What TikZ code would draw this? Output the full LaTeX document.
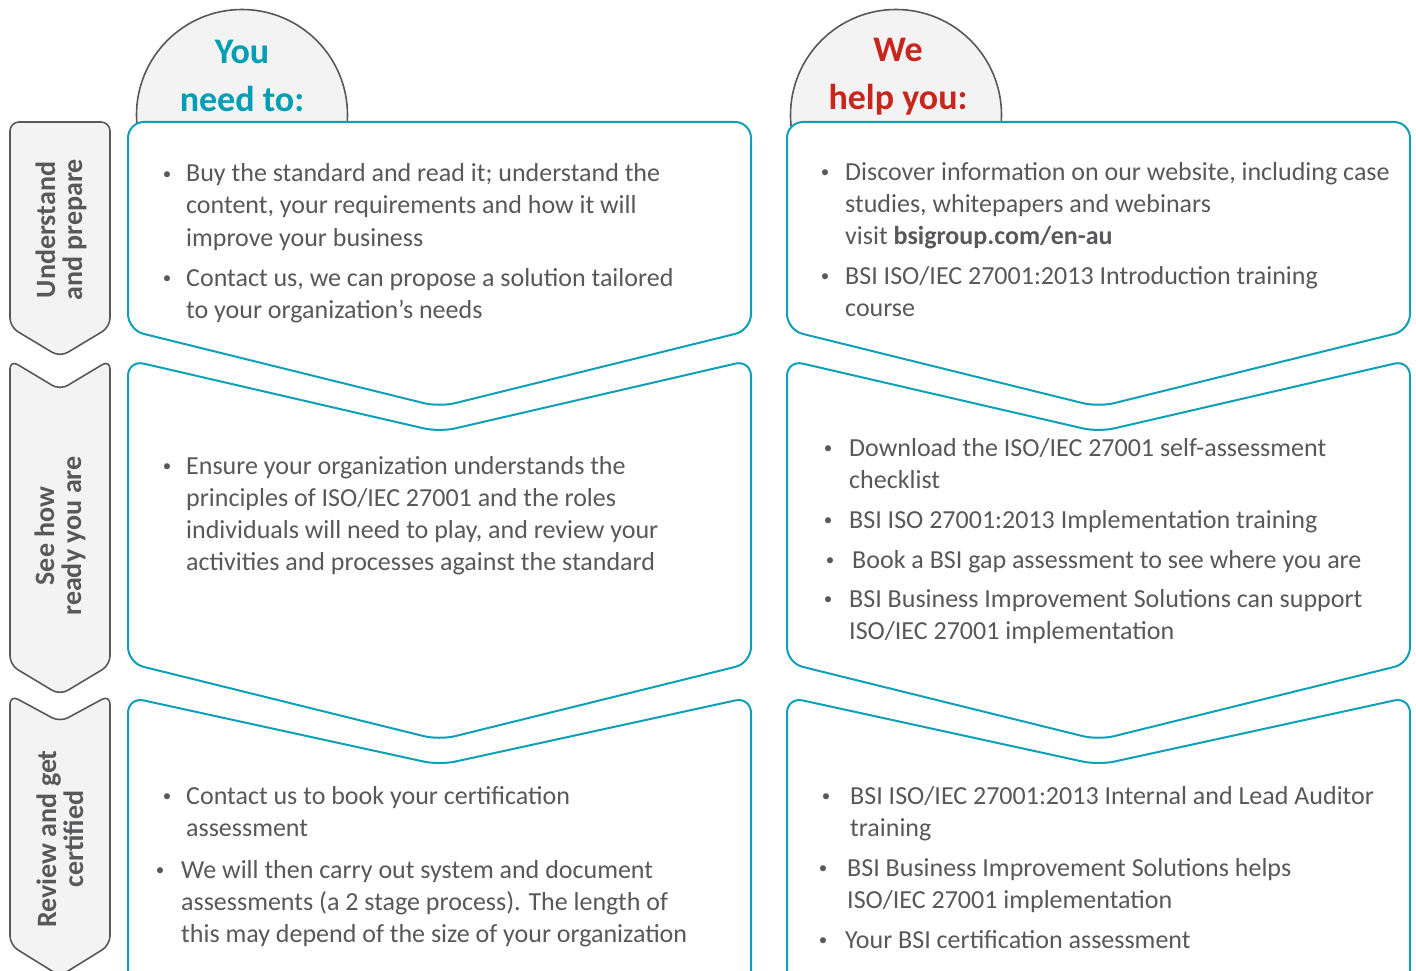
\documentclass[tikz,border=0pt]{standalone}
\usepackage{fontspec}
\setmainfont{Carlito}
\definecolor{teal1}{RGB}{14,160,184}
\definecolor{headteal}{RGB}{0,158,178}
\definecolor{headred}{RGB}{200,38,28}
\definecolor{txtgray}{RGB}{88,88,90}
\definecolor{tabline}{RGB}{88,88,88}
\definecolor{tabfill}{RGB}{243,243,243}
\newcommand\bitem[5]{%
  \node[txt, anchor=base west] (#1) at (#3,#4+8) {\begin{tabular}[t]{@{}l@{}}#5\end{tabular}};
  \node[bdot, anchor=base] (#1d) at (#2,#4+5) {•};
}
\begin{document}
\begin{tikzpicture}[x=1pt,y=-1pt,
  tabshape/.style={draw=tabline, fill=tabfill, line width=1.6pt, rounded corners=9pt},
  boxshape/.style={draw=teal1, fill=white, line width=2pt, rounded corners=16pt},
  headcirc/.style={draw=tabline, fill=tabfill, line width=1.6pt, circle, minimum size=211pt, inner sep=0pt},
  tabtext/.style={text=txtgray, font=\bfseries\fontsize{28}{27}\selectfont, rotate=90, align=center, inner sep=0pt},
  headtxt/.style={font=\bfseries\fontsize{36}{44}\selectfont, inner sep=0pt, anchor=base},
  txt/.style={text=txtgray, font=\fontsize{26}{32}\selectfont, inner sep=0pt},
  bdot/.style={text=txtgray, font=\fontsize{17}{20}\selectfont, inner sep=0pt},
]
\useasboundingbox (0,0) rectangle (1416,971);

% heading circles
\node[headcirc] (c1) at (242,115) {};
\node[headcirc] (c2) at (896,115) {};
\node[headtxt, text=headteal] (h1a) at (242,64) {You};
\node[headtxt, text=headteal] (h1b) at (242,112) {need to:};
\node[headtxt, text=headred] (h2a) at (898,62) {We};
\node[headtxt, text=headred] (h2b) at (898,110) {help you:};

% left tabs
\draw[tabshape] (10,122) -- (110,122) -- (110,327) -- (60,357) -- (10,327) -- cycle;
\draw[tabshape] (10,360) -- (60,390) -- (110,360) -- (110,665) -- (60,695) -- (10,665) -- cycle;
\draw[tabshape] (10,695) -- (60,722) -- (110,695) -- (110,945) -- (60,976) -- (10,945) -- cycle;
\node[tabtext] (t1) at (61,230) {Understand\\and prepare};
\node[tabtext] (t2) at (60,536) {See how\\ready you are};
\node[tabtext] (t3) at (60,839) {Review and get\\certified};

% boxes, left column
\draw[boxshape] (128,122) -- (751,122) -- (751,330) -- (439.5,407) -- (128,330) -- cycle;
\draw[boxshape] (128,360) -- (439.5,432) -- (751,360) -- (751,663) -- (439.5,740) -- (128,663) -- cycle;
\draw[boxshape] (128,697) -- (439.5,765) -- (751,697) -- (751,995) -- (128,995) -- cycle;
% boxes, right column
\draw[boxshape] (787,122) -- (1410,122) -- (1410,330) -- (1098.5,407) -- (787,330) -- cycle;
\draw[boxshape] (787,360) -- (1098.5,432) -- (1410,360) -- (1410,663) -- (1098.5,740) -- (787,663) -- cycle;
\draw[boxshape] (787,697) -- (1098.5,765) -- (1410,697) -- (1410,995) -- (787,995) -- cycle;

% left texts
\bitem{la}{167}{186}{174}{Buy the standard and read it; understand the\\content, your requirements and how it will\\improve your business}
\bitem{lb}{167}{186}{278}{Contact us, we can propose a solution tailored\\to your organization’s needs}
\bitem{lc}{167}{186}{466}{Ensure your organization understands the\\principles of ISO/IEC 27001 and the roles\\individuals will need to play, and review your\\activities and processes against the standard}
\bitem{ld}{167}{186}{796}{Contact us to book your certification\\assessment}
\bitem{le}{160}{181}{870}{We will then carry out system and document\\assessments (a 2 stage process). The length of\\this may depend of the size of your organization}

% right texts
\bitem{ra}{825}{845}{172}{Discover information on our website, including case\\studies, whitepapers and webinars\\visit \textbf{bsigroup.com/en-au}}
\bitem{rb}{825}{845}{276}{BSI ISO/IEC 27001:2013 Introduction training\\course}
\bitem{rc}{828}{849}{448}{Download the ISO/IEC 27001 self-assessment\\checklist}
\bitem{rd}{828}{849}{520}{BSI ISO 27001:2013 Implementation training}
\bitem{re}{830}{852}{560}{Book a BSI gap assessment to see where you are}
\bitem{rf}{828}{849}{599}{BSI Business Improvement Solutions can support\\ISO/IEC 27001 implementation}
\bitem{rg}{826}{850}{796}{BSI ISO/IEC 27001:2013 Internal and Lead Auditor\\training}
\bitem{rh}{823}{847}{868}{BSI Business Improvement Solutions helps\\ISO/IEC 27001 implementation}
\bitem{ri}{823}{845}{940}{Your BSI certification assessment}
\end{tikzpicture}
\end{document}
